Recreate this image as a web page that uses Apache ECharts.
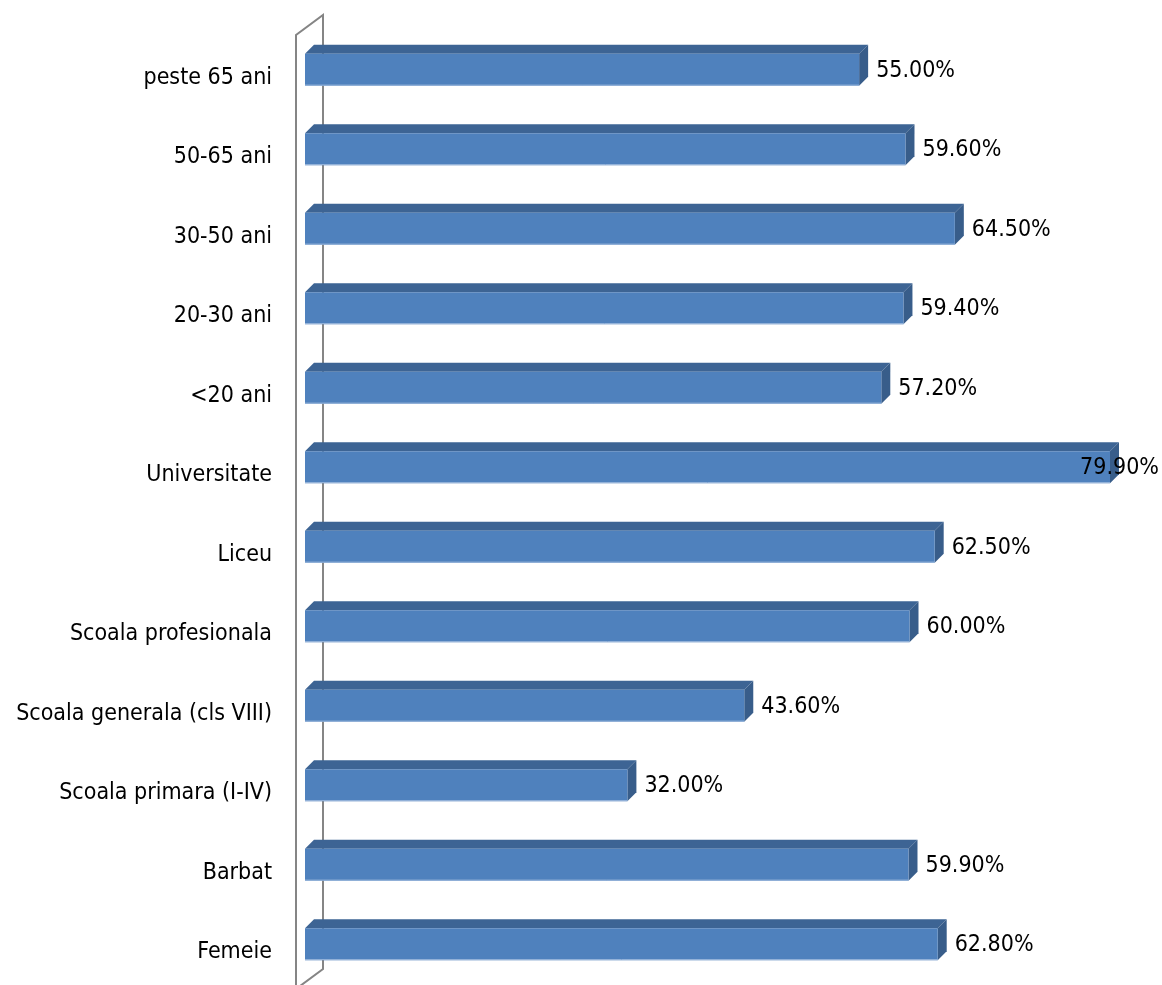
<!DOCTYPE html>
<html>
<head>
<meta charset="utf-8">
<script src="https://cdn.jsdelivr.net/npm/echarts@6/dist/echarts.min.js"></script>
<style>
html,body{margin:0;padding:0;background:#fff;}
#c{width:1162px;height:985px;}
</style>
</head>
<body>
<div id="c"></div>
<script>
// Categories listed bottom-to-top (category axis starts at the bottom)
const categories = [
  'Femeie', 'Barbat', 'Scoala primara (I-IV)', 'Scoala generala (cls VIII)',
  'Scoala profesionala', 'Liceu', 'Universitate', '<20 ani', '20-30 ani',
  '30-50 ani', '50-65 ani', 'peste 65 ani'
];
const values = [62.8, 59.9, 32.0, 43.6, 60.0, 62.5, 79.9, 57.2, 59.4, 64.5, 59.6, 55.0];

const FONT_FAMILY = '"Liberation Sans Narrow", "DejaVu Sans Condensed", "Liberation Sans", sans-serif';
const FONT_SIZE = 23;
const W = 1162, H = 985;
const GRID_LEFT = 305, GRID_TOP = 30, GRID_HEIGHT = 954;
const X_MAX = 85;
const GRID_WIDTH = X_MAX * 10.075;
const DEPTH = 9;

const FRONT = '#4F81BD', TOP = '#3D6494', SIDE = '#385D8A';

const measureCtx = document.createElement('canvas').getContext('2d');
measureCtx.font = FONT_SIZE + 'px ' + FONT_FAMILY;

const chart = echarts.init(document.getElementById('c'), null, {renderer: 'canvas'});

function renderItem(params, api) {
  const v = api.value(0);
  const ci = api.value(1);
  const start = api.coord([0, ci]);
  const end = api.coord([v, ci]);
  const band = api.size([0, 1])[1];
  const h = band * 0.4;
  const d = DEPTH;
  const x0 = start[0], x1 = end[0], yc = end[1];
  const yt = yc - h / 2, yb = yc + h / 2;
  const label = v.toFixed(2) + '%';
  const tw = measureCtx.measureText(label).width;
  let lx = x1 + d + 8;
  if (lx + tw > W - 3) lx = W - 3 - tw;
  return {
    type: 'group',
    children: [
      {type: 'polygon', shape: {points: [[x0, yt], [x0 + d, yt - d], [x1 + d, yt - d], [x1, yt]]},
        style: {fill: TOP}},
      {type: 'polygon', shape: {points: [[x1, yt], [x1 + d, yt - d], [x1 + d, yb - d], [x1, yb]]},
        style: {fill: SIDE}},
      {type: 'rect', shape: {x: x0, y: yt, width: x1 - x0, height: h},
        style: {fill: FRONT}},
      {type: 'line', shape: {x1: x0, y1: yb - 0.5, x2: x1, y2: yb - 0.5},
        style: {stroke: '#9DB9DD', lineWidth: 1}},
      {type: 'text', z2: 10, style: {text: label, x: lx, y: yc + 1, verticalAlign: 'middle', align: 'left',
        fill: '#000', font: FONT_SIZE + 'px ' + FONT_FAMILY}}
    ]
  };
}

// Wall (axis side panel) derived from grid layout
const zx = GRID_LEFT;
const frontX = zx - 9, backX = zx + 18;
const wallTopFront = GRID_TOP + 5, wallTopBack = GRID_TOP - 15;
const wallBotBack = GRID_TOP + GRID_HEIGHT - 15;
const slope = 20 / 27;

chart.setOption({
  animation: false,
  backgroundColor: '#fff',
  grid: {left: GRID_LEFT, top: GRID_TOP, width: GRID_WIDTH, height: GRID_HEIGHT,
    containLabel: false, outerBoundsMode: 'none'},
  xAxis: {type: 'value', min: 0, max: X_MAX, show: false},
  yAxis: {
    type: 'category', data: categories,
    axisLine: {show: false}, axisTick: {show: false}, splitLine: {show: false},
    axisLabel: {color: '#000', fontSize: FONT_SIZE, fontFamily: FONT_FAMILY, margin: 33,
      verticalAlign: 'top', lineHeight: 16}
  },
  graphic: [
    {type: 'polyline', z: 0, silent: true,
      shape: {points: [[frontX, H + 5], [frontX, wallTopFront], [backX, wallTopBack], [backX, wallBotBack],
        [backX - (H + 5 - wallBotBack) / slope, H + 5]]},
      style: {stroke: '#858585', lineWidth: 2, fill: null}}
  ],
  series: [{
    type: 'custom',
    z: 5,
    renderItem: renderItem,
    encode: {x: 0, y: 1},
    data: values.map((v, i) => [v, categories[i]])
  }]
});
</script>
</body>
</html>
